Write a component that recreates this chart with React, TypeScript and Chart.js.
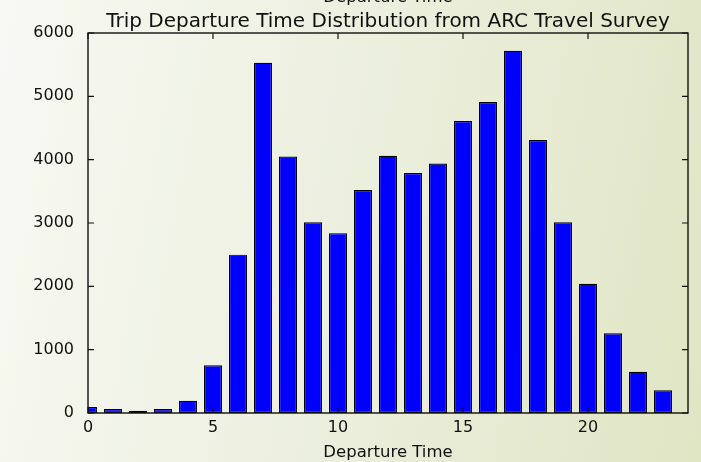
import React, { useEffect, useRef } from "react";
import { Chart, registerables } from "chart.js";

Chart.register(...registerables);

const hours = [0, 1, 2, 3, 4, 5, 6, 7, 8, 9, 10, 11, 12, 13, 14, 15, 16, 17, 18, 19, 20, 21, 22, 23];
const trips = [95, 63, 36, 63, 194, 753, 2500, 5530, 4050, 3010, 2840, 3520, 4060, 3790, 3940, 4610, 4910, 5720, 4310, 3010, 2040, 1260, 650, 360];
const xTicks = [0, 5, 10, 15, 20];
const yTicks = [0, 1000, 2000, 3000, 4000, 5000, 6000];
const titleText = "Trip Departure Time Distribution from ARC Travel Survey";
const xLabel = "Departure Time";

const FONT = "'DejaVu Sans', sans-serif";

const framePlugin = {
  id: "mplFrame",
  afterDraw(chart: any) {
    const ctx = chart.ctx;
    const { left, right, top, bottom } = chart.chartArea;
    const xs = chart.scales.x;
    const ys = chart.scales.y;
    ctx.save();
    ctx.strokeStyle = "#111";
    ctx.lineWidth = 1.4;
    ctx.strokeRect(left, top, right - left, bottom - top);
    ctx.lineWidth = 1.2;
    const tl = 6;
    ctx.beginPath();
    for (const v of xTicks) {
      const px = xs.getPixelForValue(v);
      ctx.moveTo(px, bottom);
      ctx.lineTo(px, bottom - tl);
      ctx.moveTo(px, top);
      ctx.lineTo(px, top + tl);
    }
    for (const v of yTicks) {
      const py = ys.getPixelForValue(v);
      ctx.moveTo(left, py);
      ctx.lineTo(left + tl, py);
      ctx.moveTo(right, py);
      ctx.lineTo(right - tl, py);
    }
    ctx.stroke();

    const cx = (left + right) / 2;
    ctx.fillStyle = "#111";
    ctx.textAlign = "center";
    ctx.textBaseline = "alphabetic";
    ctx.font = `20px ${FONT}`;
    ctx.fillText(titleText, cx, 27);
    ctx.font = `16.5px ${FONT}`;
    ctx.fillText(xLabel, cx, 2);
    ctx.fillText(xLabel, cx, 457);
    ctx.restore();
  },
};

export default function App() {
  const ref = useRef<HTMLCanvasElement | null>(null);
  useEffect(() => {
    if (!ref.current) return;
    const chart = new Chart(ref.current, {
      type: "bar",
      data: {
        datasets: [
          {
            data: hours.map((h, i) => ({ x: h, y: trips[i] })),
            backgroundColor: "#0000ff",
            borderColor: "#000",
            borderWidth: 1.2,
            borderSkipped: false,
            barPercentage: 0.9,
            categoryPercentage: 0.8,
          },
        ],
      },
      options: {
        animation: false,
        responsive: false,
        maintainAspectRatio: false,
        layout: { padding: { top: 33, right: 13, left: 0, bottom: 0 } },
        plugins: { legend: { display: false }, tooltip: { enabled: false }, title: { display: false } },
        scales: {
          x: {
            type: "linear",
            min: 0,
            max: 24,
            offset: false,
            grid: { display: false },
            border: { display: false },
            afterBuildTicks: (s: any) => {
              s.ticks = xTicks.map((v) => ({ value: v }));
            },
            afterFit: (s: any) => {
              s.height = 49;
            },
            ticks: { color: "#111", padding: -3, font: { family: FONT, size: 16 }, maxRotation: 0, autoSkip: false },
          },
          y: {
            min: 0,
            max: 6000,
            grid: { display: false },
            border: { display: false },
            afterBuildTicks: (s: any) => {
              s.ticks = yTicks.map((v) => ({ value: v }));
            },
            afterFit: (s: any) => {
              s.width = 88;
            },
            ticks: {
              color: "#111",
              padding: 6,
              font: { family: FONT, size: 16 },
              callback: (v: any) => String(v),
            },
          },
        },
      },
      plugins: [framePlugin],
    });
    return () => chart.destroy();
  }, []);
  return (
    <div
      style={{
        position: "fixed",
        left: 0,
        top: 0,
        width: 701,
        height: 462,
        background: "linear-gradient(100deg, #f8f9f4 0%, #eef1e2 40%, #e0e5c4 100%)",
      }}
    >
      <canvas ref={ref} width={701} height={462} style={{ display: "block" }} />
    </div>
  );
}
